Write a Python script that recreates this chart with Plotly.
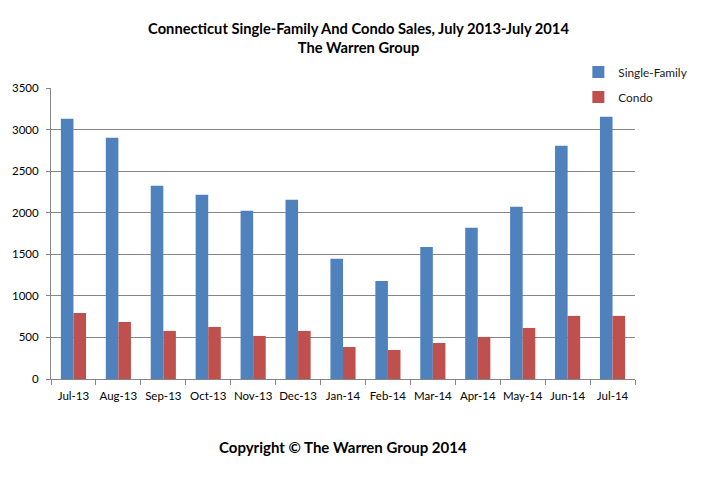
import plotly.graph_objects as go

months = ["Jul-13", "Aug-13", "Sep-13", "Oct-13", "Nov-13", "Dec-13", "Jan-14",
          "Feb-14", "Mar-14", "Apr-14", "May-14", "Jun-14", "Jul-14"]
single_family = [3131, 2902, 2324, 2216, 2023, 2155, 1445, 1180, 1589, 1818, 2071, 2806, 3155]
condo = [795, 686, 578, 626, 518, 578, 385, 349, 433, 506, 614, 759, 759]
y_ticks = [0, 500, 1000, 1500, 2000, 2500, 3000, 3500]

FONT = "Lato, Carlito, Calibri, sans-serif"

fig = go.Figure()
fig.add_trace(go.Bar(x=months, y=single_family, name="Single-Family",
                     marker=dict(color="#4f81bd", line=dict(width=0)),
                     legendgroup="a"))
fig.add_trace(go.Bar(x=months, y=condo, name="Condo",
                     marker=dict(color="#c0504d", line=dict(width=0)),
                     legendgroup="b"))

fig.update_layout(
    width=701, height=478,
    margin=dict(l=43, r=74, t=80, b=107, autoexpand=False),
    paper_bgcolor="white", plot_bgcolor="white",
    font=dict(family=FONT, size=11.5, color="#000000"),
    barmode="group", bargap=0.44, bargroupgap=0,
    title=dict(text="<b>Connecticut Single-Family And Condo Sales, July 2013-July 2014<br>The Warren Group</b>",
               x=0.5, xanchor="center", y=0.9466, yanchor="middle",
               font=dict(family=FONT, size=14.7, color="#000000")),
    legend=dict(x=0.903, xanchor="left", y=1.105, yanchor="top",
                font=dict(family=FONT, size=11.8, color="#1a1a1a"), traceorder="grouped",
                tracegroupgap=6, itemwidth=30, bgcolor="rgba(0,0,0,0)"),
    xaxis=dict(showline=True, linecolor="#868686", linewidth=1,
               ticks="outside", tickson="boundaries", ticklen=5, tickcolor="#868686",
               showgrid=False, tickangle=0, ticklabelstandoff=6,
               tickfont=dict(family=FONT, size=11.5)),
    yaxis=dict(range=[0, 3500], tickvals=y_ticks, showline=True, linecolor="#868686",
               linewidth=1, showgrid=True, gridcolor="#868686", gridwidth=1,
               ticks="outside", ticklen=4, tickcolor="#868686", zeroline=False,
               ticklabelstandoff=5, tickfont=dict(family=FONT, size=11.5)),
    annotations=[dict(text="<b>Copyright © The Warren Group 2014</b>", xref="paper", yref="paper",
                      x=0.5, y=-0.2337, xanchor="center", yanchor="middle", showarrow=False,
                      font=dict(family=FONT, size=15, color="#000000"))],
)

fig.write_html("out.html")
